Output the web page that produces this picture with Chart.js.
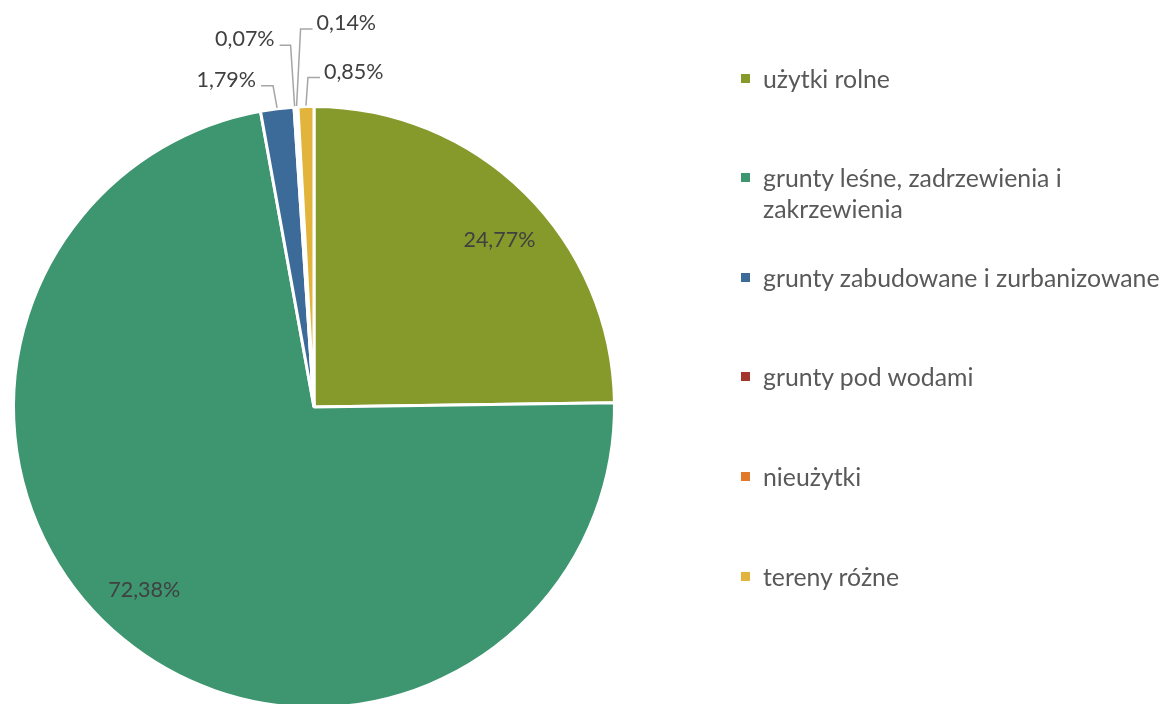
<!DOCTYPE html>
<html>
<head>
<meta charset="utf-8">
<script src="https://cdn.jsdelivr.net/npm/chart.js@4"></script>
<style>
  html, body { margin: 0; padding: 0; background: #fff; overflow: hidden; }
  #wrap { position: relative; width: 1164px; height: 720px; }
  #legend { position: absolute; left: 0; top: 0; width: 1164px; height: 704px; pointer-events: none;
            font-family: Lato, sans-serif; font-size: 24.8px; color: #595959; }
  .item { position: absolute; left: 741px; width: 420px; line-height: 31px; }
  .item .box { position: absolute; left: 0; top: 11px; width: 9px; height: 9px; }
  .item .txt { margin-left: 22px; display: block; white-space: nowrap; }
</style>
</head>
<body>
<div id="wrap">
  <canvas id="chart" width="1164" height="720"></canvas>
  <div id="legend"></div>
</div>
<script>
const categories = [
  'użytki rolne',
  'grunty leśne, zadrzewienia i zakrzewienia',
  'grunty zabudowane i zurbanizowane',
  'grunty pod wodami',
  'nieużytki',
  'tereny różne'
];
const legendLines = [
  ['użytki rolne'],
  ['grunty leśne, zadrzewienia i', 'zakrzewienia'],
  ['grunty zabudowane i zurbanizowane'],
  ['grunty pod wodami'],
  ['nieużytki'],
  ['tereny różne']
];
const shares = [24.77, 72.38, 1.79, 0.07, 0.14, 0.85];
const colors = ['#86992B', '#3D9670', '#3C6A99', '#A4372D', '#E07A2A', '#E2B43C'];

// leader line styling for the small slices: [elbow dx, elbow dy, horizontal run]
const callouts = { 2: [-4, -22, -12], 3: [-4, -61, -11], 4: [4, -77, 12], 5: [2, -28, 12] };

const fmt = v => v.toFixed(2).replace('.', ',') + '%';

const labelPlugin = {
  id: 'sliceLabels',
  afterDatasetsDraw(chart) {
    const ctx = chart.ctx;
    const arcs = chart.getDatasetMeta(0).data;
    ctx.save();
    ctx.font = '21.5px Lato, sans-serif';
    ctx.fillStyle = '#404040';
    ctx.textBaseline = 'middle';
    arcs.forEach((arc, i) => {
      const { x, y, startAngle, endAngle, outerRadius } = arc.getProps(['x', 'y', 'startAngle', 'endAngle', 'outerRadius'], true);
      const mid = (startAngle + endAngle) / 2;
      const text = fmt(shares[i]);
      if (!callouts[i]) {
        const r = outerRadius * 0.83;
        const a = mid + 0.06;
        ctx.textAlign = 'center';
        ctx.fillText(text, x + Math.cos(a) * r, y + Math.sin(a) * r);
        return;
      }
      const [dx, dy, run] = callouts[i];
      const ex = x + Math.cos(mid) * (outerRadius + 1);
      const ey = y + Math.sin(mid) * (outerRadius + 1);
      const kx = ex + dx, ky = ey + dy;
      ctx.strokeStyle = '#A6A6A6';
      ctx.lineWidth = 1.5;
      ctx.beginPath();
      ctx.moveTo(ex, ey);
      ctx.lineTo(kx, ky);
      ctx.lineTo(kx + run, ky);
      ctx.stroke();
      ctx.textAlign = run < 0 ? 'right' : 'left';
      ctx.fillText(text, kx + run + (run < 0 ? -5 : 4), ky - 6);
    });
    ctx.restore();
  }
};

new Chart(document.getElementById('chart'), {
  type: 'pie',
  data: {
    labels: categories,
    datasets: [{
      data: shares,
      backgroundColor: colors,
      borderColor: '#ffffff',
      borderWidth: 3
    }]
  },
  options: {
    responsive: false,
    animation: false,
    layout: { padding: { left: 12, top: 105, right: 548, bottom: 11 } },
    plugins: {
      legend: { display: false },
      tooltip: { enabled: false }
    }
  },
  plugins: [labelPlugin]
});

const legendEl = document.getElementById('legend');
legendLines.forEach((lines, i) => {
  const item = document.createElement('div');
  item.className = 'item';
  item.style.top = (78 + i * 99.6 - 15.5) + 'px';
  const box = document.createElement('span');
  box.className = 'box';
  box.style.background = colors[i];
  item.appendChild(box);
  lines.forEach(l => {
    const t = document.createElement('span');
    t.className = 'txt';
    t.textContent = l;
    item.appendChild(t);
  });
  legendEl.appendChild(item);
});
</script>
</body>
</html>
